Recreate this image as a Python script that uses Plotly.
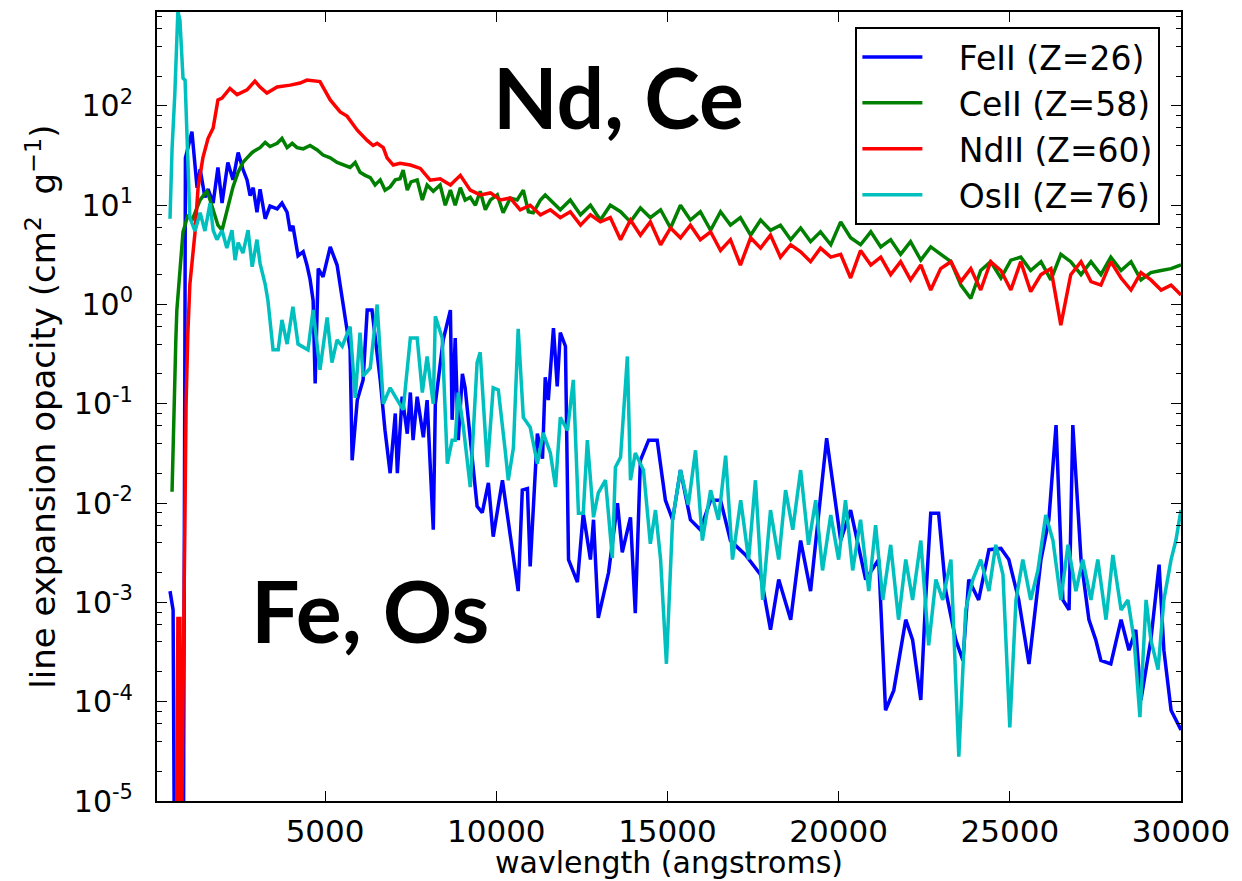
import plotly.graph_objects as go

# ---------------- data (wavelength in angstroms, opacity in cm^2/g) ----------------
fe_wl = [470, 560, 620, 850, 920, 1110, 1260, 1350, 1490, 1580, 1730, 1870, 1990, 2160, 2310,
         2460, 2600, 2720, 2810, 2900, 3010, 3100, 3250, 3390, 3600, 3740, 3890, 3980, 4060,
         4210, 4360, 4470, 4560, 4650, 4710, 4800, 4940, 5150, 5350, 5500, 5640, 5730, 5790,
         5940, 6110, 6230, 6370, 6610, 6750, 6900, 7050, 7110, 7250, 7400, 7490, 7570, 7690,
         7870, 7980, 8160, 8220, 8450, 8660, 8710, 8800, 8890, 9010, 9090, 9440, 9590, 9770,
         9910, 10180, 10640, 10760, 10910, 10990, 11200, 11350, 11430, 11520, 11670, 11780,
         11870, 12020, 12110, 12370, 12540, 12750, 12840, 12980, 13280, 13540, 13680, 13920,
         14060, 14210, 14450, 14700, 14940, 15150, 15380, 15670, 15960, 16260, 16550, 16840,
         17280, 17720, 18010, 18250, 18600, 18890, 19180, 19650, 20060, 20350, 20790, 21170,
         21370, 21610, 21960, 22160, 22400, 22540, 22690, 22920, 23130, 23420, 23630, 23800,
         24090, 24390, 24740, 24970, 25260, 25560, 25910, 26140, 26350, 26550, 26730, 26840,
         27080, 27310, 27510, 27660, 27950, 28250, 28480, 28680, 28830, 29120, 29360, 29500,
         29710, 30000]
fe_op = [1.3e-3, 8.4e-4, 1e-7, 1e-7, 30, 55, 15, 23, 12, 14.5, 10.5, 24, 10.5, 27, 18,
         34, 23, 18, 12.5, 15, 8.5, 14.5, 7.3, 9.8, 9.2, 10.5, 8.5, 5.5, 6.2,
         3.1, 3.4, 2.5, 1.8, 1.1, 0.16, 2.3, 1.9, 3.8, 2.5, 1.1, 0.52, 0.35, 0.027,
         0.109, 0.174, 0.88, 0.88, 0.174, 0.054, 0.02, 0.08, 0.02, 0.118, 0.05, 0.13, 0.043, 0.118,
         0.046, 0.109, 0.0054, 0.1, 0.44, 0.88, 0.069, 0.46, 0.043, 0.2, 0.145, 0.0093, 0.008, 0.016,
         0.0046, 0.017, 0.0013, 0.0135, 0.014, 0.0023, 0.05, 0.028, 0.185, 0.109, 0.58, 0.15,
         0.52, 0.38, 0.0027, 0.0016, 0.0079, 0.0027, 0.0068, 0.0007, 0.002, 0.01, 0.0032, 0.0072,
         0.00078, 0.027, 0.043, 0.043, 0.0107, 0.0068, 0.0215, 0.0068, 0.0054, 0.0107, 0.0107, 0.0042,
         0.003, 0.0019, 0.00053, 0.0017, 0.00067, 0.0042, 0.0013, 0.045, 0.0042, 0.0085, 0.0017, 0.0027,
         8.2e-5, 0.00013, 0.00067, 0.00042, 0.000104, 0.00106, 0.0079, 0.0079, 0.0013, 0.00042, 0.00026, 0.0017,
         0.00106, 0.0034, 0.0035, 0.0027, 0.00106, 0.00024, 0.0027, 0.0068, 0.061, 0.00106, 0.00084, 0.061,
         0.0027, 0.00067, 0.00042, 0.00026, 0.00024, 0.00067, 0.00033, 0.00053, 0.000104, 0.00042, 0.0024, 0.00033,
         8.2e-5, 5.2e-5]

ce_wl = [530, 560, 590, 610, 640, 670, 730, 790, 850, 910, 990, 1110, 1230, 1350, 1460, 1550,
         1640, 1750, 1870, 1990, 2110, 2220, 2310, 2460, 2600, 2720, 2870, 2980, 3100, 3250,
         3390, 3600, 3740, 3890, 4040, 4180, 4360, 4560, 4770, 4940, 5150, 5350, 5530, 5730,
         5880, 6020, 6170, 6320, 6460, 6610, 6750, 6900, 7050, 7190, 7280, 7400, 7510, 7690,
         7840, 7980, 8160, 8360, 8510, 8660, 8800, 8950, 9090, 9240, 9390, 9530, 9680, 9830,
         10030, 10200, 10410, 10610, 10790, 10940, 11080, 11290, 11430, 11580, 11870, 12160,
         12460, 12750, 13040, 13330, 13630, 13920, 14210, 14500, 14800, 15090, 15380, 15670,
         15960, 16260, 16550, 16840, 17130, 17430, 17720, 18010, 18300, 18600, 18890, 19180,
         19470, 19770, 20060, 20350, 20640, 20940, 21230, 21520, 21810, 22100, 22400, 22690,
         22980, 23280, 23570, 23860, 24150, 24440, 24740, 25030, 25320, 25610, 25910, 26200,
         26490, 26780, 27080, 27370, 27660, 27950, 28250, 28540, 28830, 29120, 29420, 29710, 30000]
ce_op = [0.013, 0.043, 0.069, 0.174, 0.44, 0.88, 1.77, 3.5, 5.4, 6.3, 8, 7, 9, 11.3, 12.7, 13.8,
         11.3, 8.4, 6.3, 5.6, 8, 11.3, 15.3, 21.5, 27, 30, 34, 36, 38, 43,
         39, 42, 47, 38, 42, 38, 37, 40, 36, 32, 30, 27, 25.4, 24,
         27, 21.5, 20, 19, 16, 18, 14.2, 15.3, 18, 18.5, 22.6, 14.2, 17.2, 18,
         11.3, 16, 13.8, 16, 10, 14.2, 10, 15, 11.3, 12, 10, 13.8, 9, 11.3,
         12.7, 8.4, 11.8, 11.3, 14.2, 8.6, 8.4, 11.3, 12.7, 11.3, 9, 11.3,
         8, 10, 7.1, 10, 8.6, 6.8, 9.4, 7.5, 9, 5.9, 10, 7.1,
         8.6, 5.6, 8.6, 6.3, 7.5, 5, 7.1, 5.6, 6.3, 4.5, 5.9, 4.3,
         5.4, 4, 6.8, 4.7, 4, 5.4, 3.8, 4.5, 3.2, 4.3, 2.8, 3.8,
         3.2, 2.7, 1.57, 1.15, 2.2, 2.7, 1.85, 2.8, 3, 2.2, 2.7, 1.77,
         3.2, 2.7, 2, 2.7, 2, 3, 2.2, 2.7, 1.77, 2.1, 2.2, 2.3, 2.5]

nd_wl = [640, 700, 760, 790, 820, 910, 940, 990, 1050, 1200, 1290, 1430, 1580, 1730, 1870, 1990,
         2220, 2430, 2720, 2950, 3100, 3300, 3600, 3980, 4270, 4470, 4850, 5150, 5440, 5640,
         5940, 6230, 6400, 6520, 6700, 6810, 6990, 7190, 7490, 7780, 8070, 8360, 8660, 8950,
         9240, 9530, 9830, 10120, 10410, 10700, 10990, 11290, 11580, 11870, 12160, 12460, 12750,
         13040, 13330, 13630, 13920, 14210, 14500, 14800, 15090, 15380, 15670, 15960, 16260,
         16550, 16840, 17130, 17430, 17720, 18010, 18300, 18600, 18890, 19180, 19470, 19770,
         20060, 20350, 20640, 20940, 21230, 21520, 21810, 22100, 22400, 22690, 22980, 23280,
         23570, 23860, 24150, 24440, 24740, 25030, 25320, 25610, 25910, 26200, 26490, 26780,
         27080, 27370, 27660, 27950, 28250, 28540, 28830, 29120, 29420, 29710, 30000]
nd_op = [1e-7, 6.9e-4, 6.9e-4, 1e-7, 1.1e-5, 0.054, 0.1, 0.5, 1.6, 5.3, 15, 30, 47, 60, 115, 120,
         150, 130, 145, 178, 155, 135, 155, 162, 170, 182, 176, 115, 87, 79,
         57, 45, 40, 42, 38, 30, 25.4, 26.5, 25.4, 23.5, 17.9, 18.5, 16, 20,
         14.2, 12.7, 13.3, 11.3, 11.8, 9, 10, 8, 9, 7.5, 8.6, 6.3, 8,
         6.8, 7.5, 4.5, 7.1, 5, 6.8, 4, 5.9, 4.7, 6.3, 4.5, 5.4,
         3.5, 4.5, 2.5, 4.7, 3.7, 5, 3, 4, 3.4, 2.7, 3.7, 3,
         3.2, 1.85, 3.5, 2.5, 3, 2, 2.7, 1.77, 2.5, 1.4, 2.3, 2.7,
         1.7, 2.3, 1.4, 2.7, 2.2, 1.4, 2.7, 1.35, 2, 2.3, 0.62, 2,
         2.7, 1.7, 1.57, 2.7, 1.85, 1.4, 2.1, 1.77, 1.4, 1.57, 1.25]

os_wl = [470, 530, 610, 700, 760, 820, 850, 910, 970, 1050, 1200, 1350, 1490, 1640, 1730, 1840,
         1990, 2130, 2280, 2370, 2460, 2600, 2750, 2870, 3010, 3100, 3250, 3330, 3480, 3630,
         3740, 3890, 4060, 4210, 4500, 4650, 4850, 5060, 5200, 5350, 5500, 5730, 5880, 6020,
         6110, 6320, 6520, 6700, 6900, 7280, 7490, 7690, 7840, 7980, 8160, 8220, 8420, 8570,
         8710, 8800, 8890, 9040, 9240, 9440, 9530, 9740, 9910, 10060, 10260, 10350, 10500,
         10640, 10790, 10990, 11200, 11370, 11580, 11730, 11870, 12080, 12250, 12400, 12540,
         12660, 12840, 12980, 13190, 13390, 13480, 13630, 13830, 13920, 14060, 14300, 14500,
         14650, 14800, 14970, 15150, 15380, 15610, 15820, 16020, 16260, 16490, 16700, 16900,
         17140, 17370, 17570, 17780, 18010, 18250, 18450, 18660, 18890, 19120, 19330, 19530,
         19770, 20000, 20200, 20410, 20640, 20880, 21080, 21290, 21520, 21750, 21960, 22160,
         22400, 22630, 22840, 23040, 23280, 23510, 23710, 23920, 24150, 24390, 24590, 24800,
         25000, 25180, 25380, 25610, 25820, 26050, 26260, 26490, 26700, 26930, 27130, 27370,
         27570, 27810, 28010, 28250, 28450, 28630, 28800, 28980, 29120, 29330, 29500, 29710,
         29850, 30000]
os_op = [7.3, 37, 130, 900, 730, 290, 190, 182, 45, 7.5, 5.5, 8.4, 5.5, 10.5, 5.6, 4.5,
         5.6, 3.7, 5.6, 2.8, 4.2, 3.3, 5.6, 2.4, 4.5, 2.6, 1.6, 1.1, 0.35, 0.35,
         0.7, 0.4, 0.95, 0.4, 0.35, 0.88, 0.22, 0.74, 0.26, 0.44, 0.38, 0.6, 0.115, 0.52,
         0.19, 0.23, 1.0, 0.1, 0.145, 0.087, 0.46, 0.46, 0.13, 0.3, 0.1, 0.76, 0.46, 0.025,
         0.043, 0.043, 0.13, 0.058, 0.0145, 0.26, 0.33, 0.023, 0.145, 0.138, 0.034, 0.017, 0.036,
         0.57, 0.073, 0.058, 0.025, 0.051, 0.032, 0.0145, 0.073, 0.054, 0.174, 0.0079, 0.0079,
         0.043, 0.0072, 0.0127, 0.017, 0.0028, 0.023, 0.029, 0.3, 0.017, 0.032, 0.0215, 0.0039,
         0.0085, 0.0027, 0.00024, 0.0068, 0.0215, 0.0096, 0.034, 0.0042, 0.0135, 0.0068, 0.030, 0.0027,
         0.0107, 0.0027, 0.017, 0.00106, 0.0085, 0.0027, 0.0135, 0.0054, 0.0215, 0.0038, 0.0107, 0.0021,
         0.0076, 0.0027, 0.0107, 0.0021, 0.0068, 0.0013, 0.006, 0.00106, 0.0038, 0.00067, 0.0027, 0.00106,
         0.0042, 0.00037, 0.0017, 0.00106, 0.0027, 2.8e-5, 0.00084, 0.0017, 0.0027, 0.0013, 0.0038, 0.0019,
         5.5e-5, 0.00106, 0.0027, 0.00106, 0.0021, 0.0076, 0.0042, 0.00106, 0.0038, 0.0013, 0.0027, 0.00106,
         0.0027, 0.00067, 0.003, 0.00084, 0.00106, 0.00042, 7e-5, 0.00106, 0.00042, 0.00021, 0.00106, 0.0027,
         0.0042, 0.0085]

series_names = ["FeII (Z=26)", "CeII (Z=58)", "NdII (Z=60)", "OsII (Z=76)"]
series_colors = ["#0000ff", "#008000", "#ff0000", "#00bfbf"]
series_data = [(fe_wl, fe_op), (ce_wl, ce_op), (nd_wl, nd_op), (os_wl, os_op)]

x_ticks = [5000, 10000, 15000, 20000, 25000, 30000]
y_exponents = [-5, -4, -3, -2, -1, 0, 1, 2]

# ---------------- figure ----------------
fig = go.Figure()
for name, (wl, op), col in zip(series_names, series_data, series_colors):
    fig.add_trace(go.Scatter(x=wl, y=op, mode="lines", name="\u00a0\u00a0\u00a0" + name,
                             line=dict(color=col, width=3.5)))

font_main = "DejaVu Sans"
y_tickvals = [10.0 ** e for e in y_exponents]
y_ticktext = ["10<sup>%d</sup>" % e for e in y_exponents]
y_minor = [m * 10.0 ** e for e in range(-5, 3) for m in (2, 4, 6, 8)]

# the page body adds an 8 px offset, so the figure is 8 px smaller in each direction
fig.update_layout(
    template="none",
    width=1234, height=873,
    margin=dict(l=149, r=61, t=4, b=80, autoexpand=False),
    paper_bgcolor="white", plot_bgcolor="white",
    font=dict(family=font_main, color="black"),
    showlegend=True,
    legend=dict(x=0.682, y=0.981, xanchor="left", yanchor="top",
                bordercolor="black", borderwidth=2, bgcolor="white",
                font=dict(size=33, family=font_main), itemwidth=60,
                tracegroupgap=0),
    xaxis=dict(range=[90, 30000], showline=True, linecolor="black", linewidth=2,
               mirror="ticks", ticks="inside", ticklen=10, tickwidth=1.2, tickcolor="black",
               tickvals=x_ticks, ticktext=[str(v) for v in x_ticks],
               tickfont=dict(size=31, family=font_main), showgrid=False, zeroline=False,
               ticklabelstandoff=2, automargin=False),
    yaxis=dict(type="log", range=[-5, 2.946], showline=True, linecolor="black", linewidth=2,
               mirror="ticks", ticks="inside", ticklen=10, tickwidth=1.2, tickcolor="black",
               tickvals=y_tickvals, ticktext=y_ticktext,
               tickfont=dict(size=30, family=font_main), showgrid=False, zeroline=False,
               ticklabelstandoff=16, automargin=False,
               minor=dict(tickvals=y_minor, ticks="inside", ticklen=5, tickwidth=1.2,
                          tickcolor="black", showgrid=False)),
    annotations=[
        dict(text="wavlength (angstroms)", xref="paper", yref="paper", x=0.5, y=-0.078,
             xanchor="center", yanchor="middle", showarrow=False,
             font=dict(size=30, family=font_main)),
        dict(text="line expansion opacity (cm<sup>2</sup>&nbsp;&nbsp;g<sup>\u22121</sup>)",
             xref="paper", yref="paper", x=-0.114, y=0.5, textangle=-90,
             xanchor="center", yanchor="middle", showarrow=False,
             font=dict(size=34, family=font_main)),
        dict(text="<b>Nd, Ce</b>", xref="paper", yref="paper", x=0.451, y=0.893,
             xanchor="center", yanchor="middle", showarrow=False,
             font=dict(size=84, family="Lato")),
        dict(text="<b>Fe, Os</b>", xref="paper", yref="paper", x=0.208, y=0.243,
             xanchor="center", yanchor="middle", showarrow=False,
             font=dict(size=86, family="Lato")),
    ],
)

fig.write_html("out.html")
